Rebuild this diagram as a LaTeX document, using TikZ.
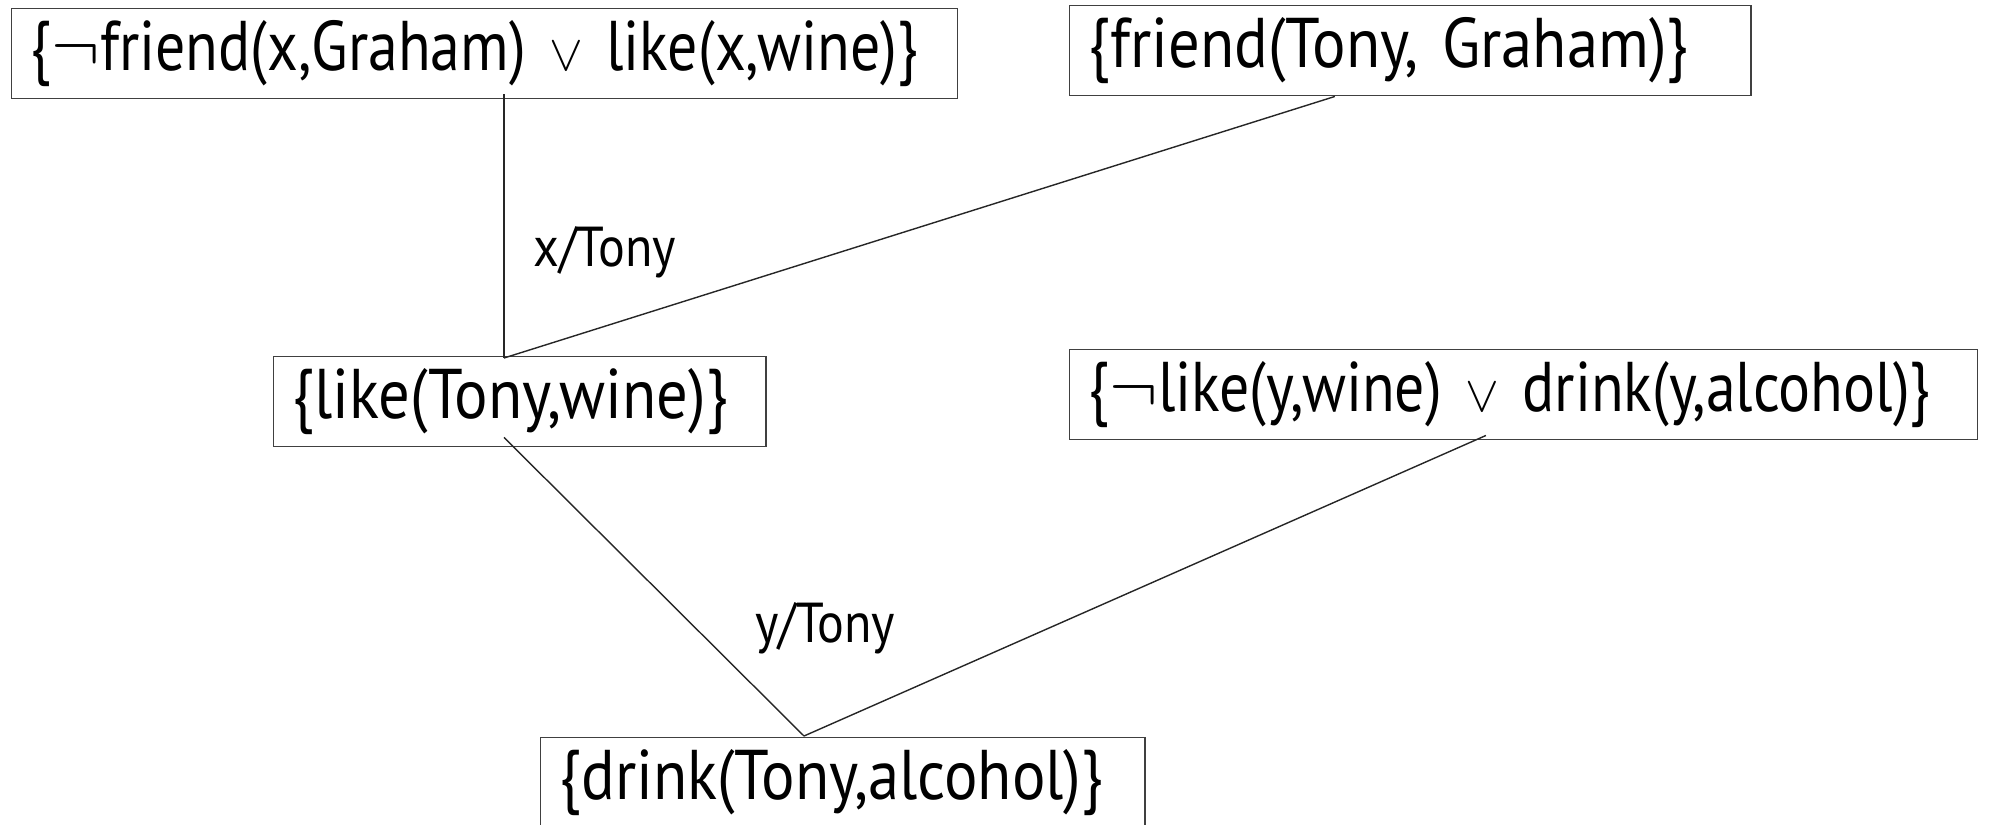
\documentclass[tikz,border=0pt]{standalone}
\usepackage{amsmath,amssymb}
\usepackage{fontspec}
\setmainfont{PT Sans}[FakeStretch=0.89]
\newfontfamily\orclausefont{PT Sans}[FakeStretch=0.85]
\usetikzlibrary{positioning}

\newcommand{\orsign}{$\scriptstyle\vee$}

\begin{document}
\begin{tikzpicture}[
    x=0.01cm, y=-0.01cm,
    clause/.style={draw=black!75, anchor=north west, align=left, inner xsep=0.19cm, inner ysep=0pt, minimum height=0.9cm, font=\fontsize{20}{24}\selectfont},
    orclause/.style={clause, font=\orclausefont\fontsize{20}{24}\selectfont},
    edge/.style={draw=black!85, line width=0.4pt},
    subst/.style={font=\fontsize{16}{19}\selectfont, inner sep=1pt}
]
    \useasboundingbox (0,0) rectangle (1989,824);

    % Clauses
    \node[orclause, text width=9.07cm] (friendx) at (11,8) {\{$\neg$friend(x,Graham) \orsign{} like(x,wine)\}};
    \node[clause, text width=6.43cm] (friendtony) at (1069,5) {\{friend(Tony, Graham)\}};
    \node[clause, text width=4.54cm] (liketony) at (273,356) {\{like(Tony,wine)\}};
    \node[orclause, text width=8.69cm] (likey) at (1069,349) {\{$\neg$like(y,wine) \orsign{} drink(y,alcohol)\}};
    \node[clause, text width=5.66cm] (drinktony) at (540,737) {\{drink(Tony,alcohol)\}};

    % Resolution points
    \coordinate (res1) at (504,358);
    \coordinate (res2) at (804,736);

    % Resolution steps
    \draw[edge] ([yshift=0.5mm]friendx.south -| res1) -- node[subst, pos=0.6, right=0.25cm] {x/Tony} (res1);
    \draw[edge] ([xshift=-0.755cm]friendtony.south) -- (res1);
    \draw[edge] ([yshift=1mm]liketony.south -| res1) -- node[subst, pos=0.64, right=0.55cm] {y/Tony} (res2);
    \draw[edge] ([xshift=-0.375cm, yshift=0.5mm]likey.south) -- (res2);
\end{tikzpicture}
\end{document}
